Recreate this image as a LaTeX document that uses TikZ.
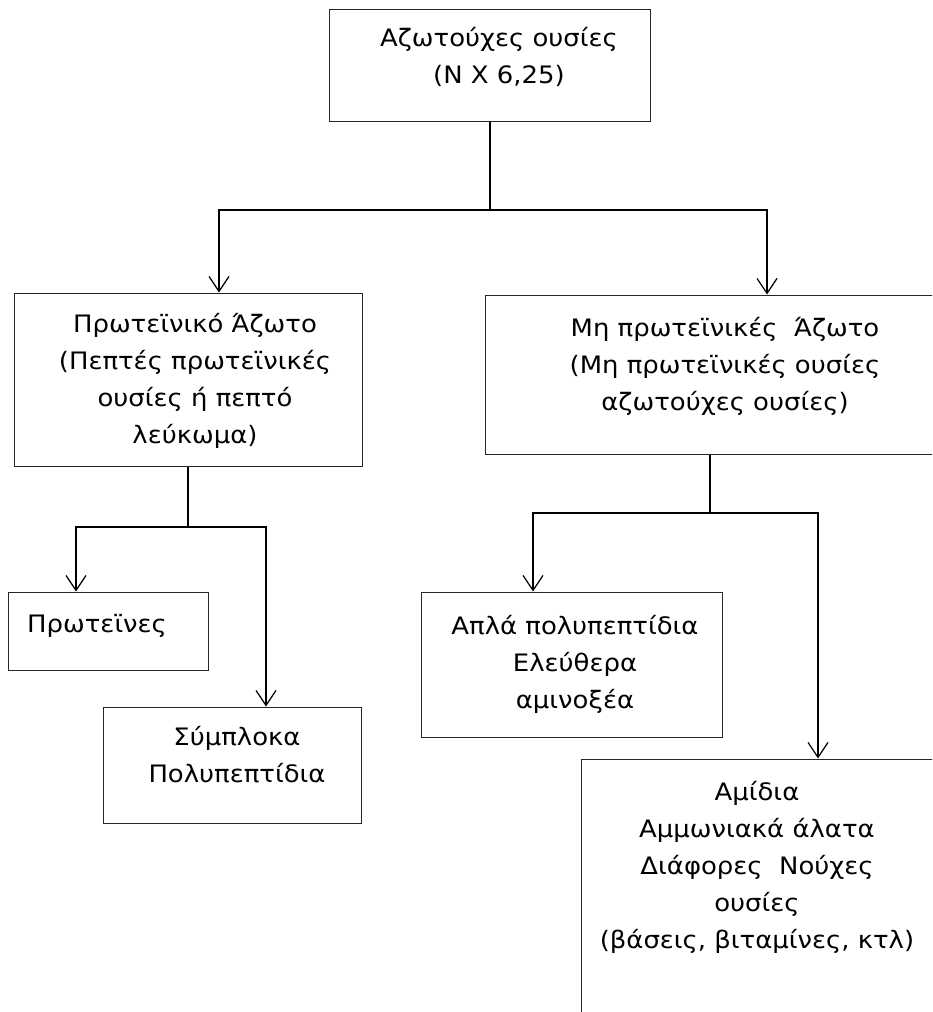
\documentclass[tikz,border=0pt]{standalone}
\usepackage{fontspec}
\setmainfont{DejaVu Sans}[FakeStretch=1.08]
\usetikzlibrary{arrows.meta}
\usetikzlibrary{calc,positioning}

\begin{document}
\begin{tikzpicture}[x=1pt, y=-1pt, >={Straight Barb[length=15pt,width=20pt]}, line width=1.2pt,
    box/.style={draw=black!85, line width=1pt, inner sep=0pt},
    txt/.style={align=center, inner sep=0pt, font=\fontsize{24}{37}\selectfont}]

    \useasboundingbox (0,0) rectangle (932,1012);
    \clip (0,0) rectangle (932,1012);

    % boxes
    \node[box, minimum width=321pt, minimum height=112pt] (top)     at (490,65) {};
    \node[box, minimum width=348pt, minimum height=173pt] (prot)    at (188,379.5) {};
    \node[box, minimum width=480pt, minimum height=159pt] (nonprot) at (725,374.5) {};
    \node[box, minimum width=200pt, minimum height=78pt]  (protein) at (108,631) {};
    \node[box, minimum width=258pt, minimum height=116pt] (complex) at (232,765) {};
    \node[box, minimum width=301pt, minimum height=145pt] (simple)  at (571.5,664.5) {};
    \node[box, minimum width=352pt, minimum height=341pt] (other)   at (757,929.5) {};

    % texts
    \node[txt] (top-txt)     at (499,57)  {Αζωτούχες ουσίες\\(N X 6,25)};
    \node[txt] (prot-txt)    at (195,381) {Πρωτεϊνικό Άζωτο\\(Πεπτές πρωτεϊνικές\\ουσίες ή πεπτό\\λεύκωμα)};
    \node[txt] (nonprot-txt) at (725,366) {Μη πρωτεϊνικές~ Άζωτο\\(Μη πρωτεϊνικές ουσίες\\αζωτούχες ουσίες)};
    \node[txt] (protein-txt) at (97,626)  {Πρωτεϊνες};
    \node[txt] (complex-txt) at (237,755) {Σύμπλοκα\\Πολυπεπτίδια};
    \node[txt] (simple-txt)  at (575,664) {Απλά πολυπεπτίδια\\Ελεύθερα\\αμινοξέα};
    \node[txt] (other-txt)   at (757,867) {Αμίδια\\Αμμωνιακά άλατα\\Διάφορες~ Νούχες\\ουσίες\\(βάσεις, βιταμίνες, κτλ)};

    % forks
    \coordinate (fork-top)  at (490,210);
    \coordinate (fork-prot) at (188,527);
    \coordinate (fork-non)  at (710,513);

    \draw (top.south) -- (fork-top);
    \draw[->] (fork-top) -| ([xshift=-271]top.south |- prot.north);
    \draw[->] (fork-top) -| ([xshift=277]top.south |- nonprot.north);

    \draw (prot.south) -- (fork-prot);
    \draw[->] (fork-prot) -| ([xshift=-32]protein.north);
    \draw[->] (fork-prot) -| ([xshift=34]complex.north);

    \draw ([xshift=-15]nonprot.south) -- (fork-non);
    \draw[->] (fork-non) -| ([xshift=-38.5]simple.north);
    \draw[->] (fork-non) -| ([xshift=61]other.north);

\end{tikzpicture}
\end{document}
